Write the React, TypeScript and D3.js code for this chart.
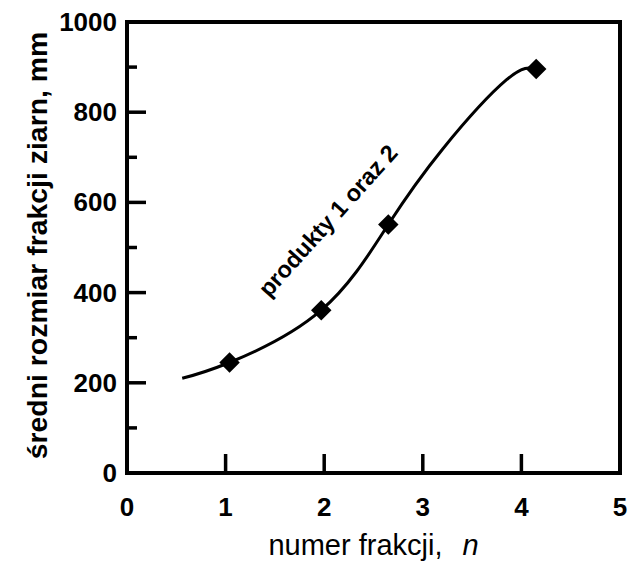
import React from "react";
import * as d3 from "d3";

// Measured fraction means (fraction number n, mean grain size in mm)
const fractionN = [1.04, 1.97, 2.65, 4.15];
const meanSize = [245, 361, 551, 896];

// Knots of the smoothed fit through the measurements
const fitN = [0.56, 1.04, 1.97, 2.65, 3.2, 3.85, 4.15];
const fitSize = [210, 245, 361, 551, 718, 872, 896];

const xTicks = [0, 1, 2, 3, 4, 5];
const yTicks = [0, 200, 400, 600, 800, 1000];
const yMinorTicks = [100, 300, 500, 700, 900];

const seriesLabel = "produkty 1 oraz 2";
const xTitle = "numer frakcji,";
const xTitleVar = "n";
const yTitle = "średni rozmiar frakcji ziarn, mm";

const W = 635;
const H = 569;
const left = 127;
const right = 620;
const top = 22;
const bottom = 473;
const font = "'Liberation Sans', Arial, sans-serif";

export default function App() {
  const x = d3.scaleLinear().domain([0, 5]).range([left, right]);
  const y = d3.scaleLinear().domain([0, 1000]).range([bottom, top]);

  const fit = fitN.map((n, i) => [n, fitSize[i]] as [number, number]);
  const line = d3
    .line<[number, number]>()
    .x((d) => x(d[0]))
    .y((d) => y(d[1]))
    .curve(d3.curveNatural);

  const diamond = d3.symbol().type(d3.symbolSquare).size(210)();

  const labelX = 334;
  const labelY = 226;

  return (
    <svg
      width={W}
      height={H}
      style={{ position: "absolute", left: 0, top: 0, background: "#fff" }}
      fontFamily={font}
    >
      {/* frame */}
      <rect
        x={left}
        y={top}
        width={right - left}
        height={bottom - top}
        fill="none"
        stroke="#000"
        strokeWidth={4}
      />
      {/* x ticks */}
      {xTicks.slice(1, -1).map((t) => (
        <line key={"xt" + t} x1={x(t)} x2={x(t)} y1={bottom} y2={bottom - 19} stroke="#000" strokeWidth={3.5} />
      ))}
      {xTicks.map((t) => (
        <text
          key={"xl" + t}
          x={x(t)}
          y={bottom + 43}
          textAnchor="middle"
          fontSize={26}
          fontWeight="bold"
        >
          {t}
        </text>
      ))}
      {/* y ticks */}
      {yTicks.slice(1, -1).map((t) => (
        <line key={"yt" + t} x1={left} x2={left + 19} y1={y(t)} y2={y(t)} stroke="#000" strokeWidth={3.5} />
      ))}
      {yMinorTicks.map((t) => (
        <line key={"ym" + t} x1={left} x2={left + 10} y1={y(t)} y2={y(t)} stroke="#000" strokeWidth={3.5} />
      ))}
      {yTicks.map((t) => (
        <text
          key={"yl" + t}
          x={left - 10}
          y={y(t) + 9}
          textAnchor="end"
          fontSize={26}
          fontWeight="bold"
        >
          {t}
        </text>
      ))}
      {/* fitted curve */}
      <path d={line(fit) ?? ""} fill="none" stroke="#000" strokeWidth={3} />
      {/* measurements */}
      {fractionN.map((n, i) => (
        <path
          key={"pt" + i}
          d={diamond ?? ""}
          transform={`translate(${x(n)},${y(meanSize[i])}) rotate(45)`}
          fill="#000"
        />
      ))}
      {/* series label */}
      <text
        x={labelX}
        y={labelY}
        transform={`rotate(-48, ${labelX}, ${labelY})`}
        fontSize={23.5}
        fontWeight="bold"
        textAnchor="middle"
      >
        {seriesLabel}
      </text>
      {/* axis titles */}
      <text x={(left + right) / 2} y={555} textAnchor="middle" fontSize={29}>
        {xTitle}
        <tspan dx={20} fontStyle="italic">
          {xTitleVar}
        </tspan>
      </text>
      <text
        transform={`translate(47, ${(top + bottom) / 2 - 2}) rotate(-90)`}
        textAnchor="middle"
        fontSize={28.4}
        fontWeight="bold"
      >
        {yTitle}
      </text>
    </svg>
  );
}
